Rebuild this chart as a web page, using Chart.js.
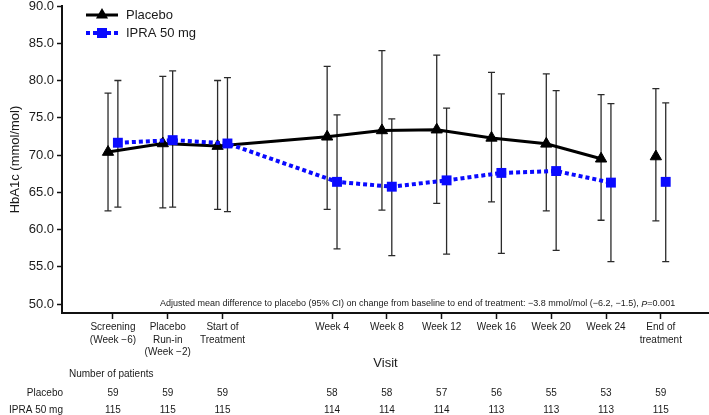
<!DOCTYPE html>
<html>
<head>
<meta charset="utf-8">
<script src="https://cdn.jsdelivr.net/npm/chart.js@4.4.1/dist/chart.umd.min.js"></script>
<style>
html, body { margin: 0; padding: 0; background: #fff; overflow: hidden; }
#wrap { width: 709px; height: 415px; position: relative; }
canvas { display: block; }
</style>
</head>
<body>
<div id="wrap"><canvas id="hba1cChart"></canvas></div>
<script>
// visits (position on the time axis) and their labels
const visitPos = [0, 1, 2, 4, 5, 6, 7, 8, 9, 10];
const visitLabels = [
    ["Screening", "(Week \u22126)"],
    ["Placebo", "Run-in", "(Week \u22122)"],
    ["Start of", "Treatment"],
    ["Week 4"], ["Week 8"], ["Week 12"], ["Week 16"], ["Week 20"], ["Week 24"],
    ["End of", "treatment"]
];
const yTicks = [50, 55, 60, 65, 70, 75, 80, 85, 90];

// HbA1c mean and 95% CI (mmol/mol)
const placeboMean = [70.4, 71.55, 71.2, 72.45, 73.3, 73.4, 72.3, 71.5, 69.5, 69.8];
const placeboLo   = [62.5, 62.9, 62.7, 62.7, 62.6, 63.5, 63.7, 62.5, 61.25, 61.15];
const placeboHi   = [78.3, 80.55, 80.0, 81.9, 84.0, 83.4, 81.1, 80.9, 78.1, 78.9];
const ipraMean = [71.65, 72.0, 71.55, 66.4, 65.75, 66.6, 67.6, 67.85, 66.3, 66.4];
const ipraLo   = [63.0, 63.0, 62.4, 57.4, 56.5, 56.7, 56.8, 57.2, 55.7, 55.7];
const ipraHi   = [80.0, 81.3, 80.4, 75.4, 74.85, 76.3, 78.2, 78.65, 76.9, 77.0];

// number of patients
const placeboN = [59, 59, 59, 58, 58, 57, 56, 55, 53, 59];
const ipraN = [115, 115, 115, 114, 114, 114, 113, 113, 113, 115];

const annoText = "Adjusted mean difference to placebo (95% CI) on change from baseline to end of treatment: \u22123.8 mmol/mol (\u22126.2, \u22121.5), ";

const FONT = '"Liberation Sans", Arial, Helvetica, sans-serif';
const TXT = '#1a1a1a';
const BLUE = '#0a0aff';
const SHIFT = 0.09;
const last = visitPos.length - 1;
Chart.defaults.font.family = FONT;
Chart.defaults.color = TXT;

function toPoints(mean, lo, hi, shift) {
    return visitPos.map((p, i) => ({ x: p + shift, y: mean[i], lo: lo[i], hi: hi[i] }));
}

// vertical CI bars with caps
const errorBars = {
    id: 'errorBars',
    beforeDatasetsDraw(chart) {
        const ctx = chart.ctx, xs = chart.scales.x, ys = chart.scales.y;
        ctx.save();
        ctx.strokeStyle = '#2b2b2b';
        ctx.lineWidth = 1.3;
        chart.data.datasets.forEach(ds => {
            ds.data.forEach(pt => {
                const x = xs.getPixelForValue(pt.x);
                const top = ys.getPixelForValue(pt.hi);
                const bot = ys.getPixelForValue(pt.lo);
                ctx.beginPath();
                ctx.moveTo(x, top); ctx.lineTo(x, bot);
                ctx.moveTo(x - 3.5, top); ctx.lineTo(x + 3.5, top);
                ctx.moveTo(x - 3.5, bot); ctx.lineTo(x + 3.5, bot);
                ctx.stroke();
            });
        });
        ctx.restore();
    }
};

function triangle(ctx, x, y, r) {
    ctx.beginPath();
    ctx.moveTo(x, y - r);
    ctx.lineTo(x + r * 0.866, y + r * 0.5);
    ctx.lineTo(x - r * 0.866, y + r * 0.5);
    ctx.closePath();
    ctx.fill();
}

// legend, annotation, visit title and patient table
const extras = {
    id: 'extras',
    afterDraw(chart) {
        const ctx = chart.ctx, xs = chart.scales.x, area = chart.chartArea;
        ctx.save();

        // legend
        ctx.textBaseline = 'middle';
        ctx.textAlign = 'left';
        ctx.font = '13px ' + FONT;
        ctx.strokeStyle = '#000'; ctx.fillStyle = '#000'; ctx.lineWidth = 3;
        ctx.beginPath(); ctx.moveTo(86, 15); ctx.lineTo(118, 15); ctx.stroke();
        triangle(ctx, 102, 15, 7);
        ctx.fillStyle = TXT;
        ctx.fillText('Placebo', 126, 15);

        ctx.strokeStyle = BLUE; ctx.fillStyle = BLUE; ctx.lineWidth = 4;
        ctx.setLineDash([4, 3]);
        ctx.beginPath(); ctx.moveTo(86, 33); ctx.lineTo(118, 33); ctx.stroke();
        ctx.setLineDash([]);
        ctx.fillRect(97, 28, 10, 10);
        ctx.fillStyle = TXT;
        ctx.fillText('IPRA 50 mg', 126, 33);

        // annotation
        let ax = 160;
        const parts = [[annoText, ''], ['P', 'italic '], ['=0.001', '']];
        parts.forEach(([t, style]) => {
            ctx.font = style + '9px ' + FONT;
            ctx.fillText(t, ax, 304);
            ax += ctx.measureText(t).width;
        });

        // axis title
        ctx.font = '13px ' + FONT;
        ctx.textAlign = 'center';
        ctx.fillText('Visit', (area.left + area.right) / 2, 363);

        // patient table
        ctx.font = '10px ' + FONT;
        ctx.textAlign = 'left';
        ctx.fillText('Number of patients', 69, 374);
        ctx.textAlign = 'right';
        ctx.fillText('Placebo', 63, 393);
        ctx.fillText('IPRA 50 mg', 63, 410);
        ctx.textAlign = 'center';
        visitPos.forEach((p, i) => {
            const x = xs.getPixelForValue(p);
            ctx.fillText(String(placeboN[i]), x, 393);
            ctx.fillText(String(ipraN[i]), x, 410);
        });
        ctx.restore();
    }
};

const ctx = document.getElementById('hba1cChart').getContext('2d');
new Chart(ctx, {
    type: 'line',
    data: {
        datasets: [{
            label: 'Placebo',
            data: toPoints(placeboMean, placeboLo, placeboHi, -SHIFT),
            borderColor: '#000',
            backgroundColor: '#000',
            borderWidth: 3,
            pointStyle: 'triangle',
            pointRadius: 6.5,
            pointBorderWidth: 1,
            order: 2,
            segment: { borderColor: c => c.p1DataIndex === last ? 'rgba(0,0,0,0)' : undefined }
        }, {
            label: 'IPRA 50 mg',
            data: toPoints(ipraMean, ipraLo, ipraHi, SHIFT),
            borderColor: BLUE,
            backgroundColor: BLUE,
            borderWidth: 4,
            borderDash: [4, 3],
            pointStyle: 'rect',
            pointRadius: 7,
            pointBorderWidth: 0,
            order: 1,
            segment: { borderColor: c => c.p1DataIndex === last ? 'rgba(0,0,0,0)' : undefined }
        }]
    },
    options: {
        responsive: true,
        maintainAspectRatio: false,
        animation: false,
        layout: { autoPadding: false, padding: { top: 6, right: 0, left: 0, bottom: 0 } },
        plugins: { legend: { display: false }, tooltip: { enabled: false } },
        scales: {
            x: {
                type: 'linear',
                min: -0.93,
                max: 10.88,
                afterBuildTicks: s => { s.ticks = visitPos.map(v => ({ value: v })); },
                afterFit: s => { s.height = 102; s.paddingLeft = 0; s.paddingRight = 0; },
                ticks: {
                    callback: v => visitLabels[visitPos.indexOf(v)],
                    font: { size: 10, lineHeight: 1.25 },
                    color: TXT,
                    padding: 2,
                    maxRotation: 0,
                    autoSkip: false
                },
                grid: { drawOnChartArea: false, tickLength: 6, color: '#111', tickWidth: 1.5 },
                border: { color: '#111', width: 2 }
            },
            y: {
                min: 48.8,
                max: 90,
                afterBuildTicks: s => { s.ticks = yTicks.map(v => ({ value: v })); },
                afterFit: s => { s.width = 62; s.paddingTop = 0; s.paddingBottom = 0; },
                ticks: { callback: v => v.toFixed(1), font: { size: 13 }, color: TXT, padding: 3 },
                grid: { drawOnChartArea: false, tickLength: 5, color: '#111', tickWidth: 1.5 },
                border: { color: '#111', width: 2 },
                title: {
                    display: true,
                    text: 'HbA1c (mmol/mol)',
                    font: { size: 13 },
                    color: TXT,
                    padding: { top: 8, bottom: 0 }
                }
            }
        }
    },
    plugins: [errorBars, extras]
});
</script>
</body>
</html>
